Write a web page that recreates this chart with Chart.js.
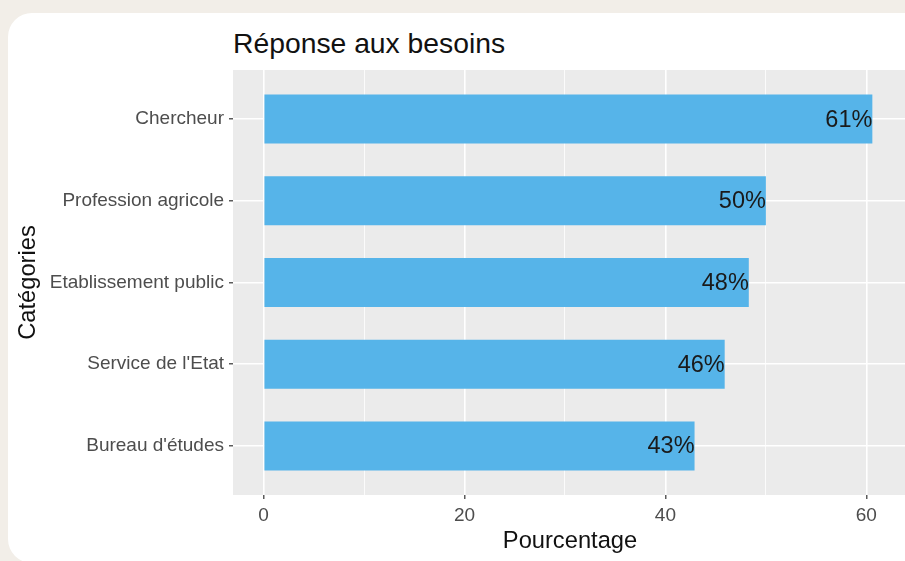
<!DOCTYPE html>
<html>
<head>
<meta charset="utf-8">
<script src="https://cdn.jsdelivr.net/npm/chart.js@4.4.1/dist/chart.umd.min.js"></script>
<style>
  html, body { margin: 0; padding: 0; width: 905px; height: 561px; overflow: hidden; background: #f2eee8; }
  .card { position: absolute; left: 8px; top: 13px; width: 920px; height: 550px; background: #fff; border-radius: 24px; }
  .title { position: absolute; left: 233px; top: 27px; font-family: "Liberation Sans", Arial, sans-serif; font-size: 28.3px; color: #111; white-space: nowrap; }
  #chart { position: absolute; left: 0; top: 0; }
</style>
</head>
<body>
<div class="card"></div>
<div class="title">Réponse aux besoins</div>
<canvas id="chart" width="907" height="561"></canvas>
<script>
// top to bottom, as in the picture
const categories = ['Chercheur', 'Profession agricole', 'Etablissement public', "Service de l'Etat", "Bureau d'études"]
const values = [60.6, 50.0, 48.3, 45.9, 42.9]
const labels = ['61%', '50%', '48%', '46%', '43%']
const xTicks = [0, 10, 20, 30, 40, 50, 60]

const font = '"Liberation Sans", Arial, sans-serif'
const n = categories.length

const panelBg = {
  id: 'panelBg',
  beforeDraw(chart) {
    const { ctx, chartArea: a } = chart
    ctx.save()
    ctx.fillStyle = '#ebebeb'
    ctx.fillRect(a.left, a.top, a.right - a.left, a.bottom - a.top)
    ctx.restore()
  }
}

const barLabels = {
  id: 'barLabels',
  afterDatasetsDraw(chart) {
    const { ctx } = chart
    const meta = chart.getDatasetMeta(0)
    ctx.save()
    ctx.font = '23.5px ' + font
    ctx.fillStyle = '#1a1a1a'
    ctx.textAlign = 'right'
    ctx.textBaseline = 'middle'
    meta.data.forEach((bar, i) => {
      ctx.fillText(labels[i], bar.x, bar.y + 1)
    })
    ctx.restore()
  }
}

new Chart(document.getElementById('chart'), {
  type: 'bar',
  data: {
    datasets: [{
      data: values.map((v, i) => ({ x: v, y: n - i })),
      backgroundColor: '#56b4e9',
      barPercentage: 0.6,
      categoryPercentage: 1
    }]
  },
  options: {
    indexAxis: 'y',
    responsive: false,
    animation: false,
    layout: { padding: { top: 70, left: 6, right: 0, bottom: 5 } },
    plugins: { legend: { display: false }, tooltip: { enabled: false } },
    scales: {
      x: {
        type: 'linear',
        min: -3.05,
        max: 64.05,
        afterBuildTicks: scale => { scale.ticks = xTicks.map(v => ({ value: v })) },
        afterFit: scale => { scale.height = 561 - 495 - 5 },
        border: { display: false },
        grid: {
          color: '#ffffff',
          lineWidth: c => (c.tick && c.tick.value % 20 === 0 ? 1.6 : 0.8),
          tickColor: c => (c.tick && c.tick.value % 20 === 0 ? '#333333' : 'rgba(0,0,0,0)'),
          tickLength: 4,
          tickWidth: 1.2
        },
        ticks: {
          autoSkip: false,
          maxRotation: 0,
          padding: 5,
          color: '#4d4d4d',
          font: { family: font, size: 19 },
          callback: v => (v % 20 === 0 ? String(v) : '')
        },
        title: {
          display: true,
          text: 'Pourcentage',
          color: '#111',
          font: { family: font, size: 23.7 },
          padding: { top: 0, bottom: 0 }
        }
      },
      y: {
        type: 'linear',
        min: 0.4,
        max: 5.6,
        offset: false,
        afterBuildTicks: scale => { scale.ticks = categories.map((c, i) => ({ value: n - i })) },
        afterFit: scale => { scale.width = 233 - 6 },
        border: { display: false },
        grid: {
          offset: false,
          color: '#ffffff',
          lineWidth: 1.6,
          tickColor: '#333333',
          tickLength: 4,
          tickWidth: 1.2
        },
        ticks: {
          autoSkip: false,
          padding: 5,
          color: '#4d4d4d',
          font: { family: font, size: 19 },
          callback: v => categories[n - v]
        },
        title: {
          display: true,
          text: 'Catégories',
          color: '#111',
          font: { family: font, size: 23.7 },
          padding: { top: 8, bottom: 0 }
        }
      }
    }
  },
  plugins: [panelBg, barLabels]
})
</script>
</body>
</html>
